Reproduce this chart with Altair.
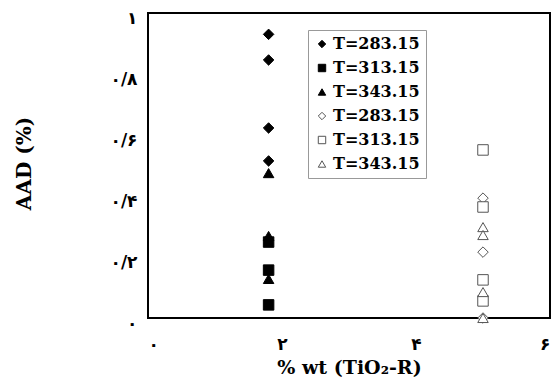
import altair as alt
import pandas as pd

# Filled series (x ~ 1.8 wt%)
x_filled = 1.8
y_d283 = [0.93, 0.846, 0.623, 0.515]
y_s313 = [0.249, 0.157, 0.043]
y_t343 = [0.475, 0.269, 0.128]

# Open series (x ~ 5 wt%)
x_open = 5.0
y_od283 = [0.393, 0.216, 0.0]
y_os313 = [0.551, 0.364, 0.125, 0.056]
y_ot343 = [0.298, 0.272, 0.085, 0.0]

series_keys = ["1|T=283.15", "2|T=313.15", "3|T=343.15",
               "4|T=283.15", "5|T=313.15", "6|T=343.15"]
shapes = ["diamond", "square", "triangle-up", "diamond", "square", "triangle-up"]
fills = ["black", "black", "black", "white", "white", "white"]
strokes = ["black", "black", "black", "#555555", "#555555", "#555555"]

x_ticks = [0, 2, 4, 6]
x_tick_labels = ["۰", "۲", "۴", "۶"]
y_ticks = [0, 0.2, 0.4, 0.6, 0.8, 1.0]
y_tick_labels = ["۰", "۰/۲", "۰/۴", "۰/۶", "۰/۸", "۱"]

rows = []
for key, xv, ys in [
    (series_keys[0], x_filled, y_d283),
    (series_keys[1], x_filled, y_s313),
    (series_keys[2], x_filled, y_t343),
    (series_keys[3], x_open, y_od283),
    (series_keys[4], x_open, y_os313),
    (series_keys[5], x_open, y_ot343),
]:
    for yv in ys:
        rows.append({"x": xv, "y": yv, "series": key})
df = pd.DataFrame(rows)

tfont = "DejaVu Serif"
dfont = "DejaVu Sans"
xlab = "[" + ",".join("'%s'" % s for s in x_tick_labels) + "][round(datum.value/2)]"
ylab = "[" + ",".join("'%s'" % s for s in y_tick_labels) + "][round(datum.value*5)]"

legend = alt.Legend(
    title=None, orient="none", legendX=160, legendY=17,
    labelExpr="split(datum.label, '|')[1]",
    labelFont=tfont, labelFontWeight="bold", labelFontSize=16, labelColor="black",
    symbolSize=55, symbolStrokeWidth=1, rowPadding=8, padding=6,
    strokeColor="#999999", fillColor="white", labelOffset=3,
)

chart = alt.Chart(df).mark_point(size=110, opacity=1, strokeWidth=1).encode(
    x=alt.X("x:Q", scale=alt.Scale(domain=[0, 6], nice=False),
            axis=alt.Axis(values=x_ticks, labelExpr=xlab, domain=False, ticks=False,
                          grid=False, labelPadding=18, labelFont=dfont, labelFlush=True,
                          labelFontWeight="bold", labelFontSize=17, labelColor="black",
                          title="% wt (TiO₂-R)", titleFont=tfont, titleFontWeight="bold",
                          titleFontSize=19, titleColor="black", titlePadding=6)),
    y=alt.Y("y:Q", scale=alt.Scale(domain=[0, 1], nice=False),
            axis=alt.Axis(values=y_ticks, labelExpr=ylab, domain=False, ticks=False,
                          grid=False, labelPadding=11, labelFont=dfont, labelOffset=5,
                          labelFontWeight="bold", labelFontSize=17, labelColor="black",
                          title="AAD (%)", titleFont=tfont, titleFontWeight="bold",
                          titleFontSize=20, titleColor="black",
                          titleX=-124, titleY=150, titleAngle=270,
                          titleBaseline="middle", titleAlign="center")),
    shape=alt.Shape("series:N", scale=alt.Scale(domain=series_keys, range=shapes), legend=legend),
    fill=alt.Fill("series:N", scale=alt.Scale(domain=series_keys, range=fills), legend=legend),
    stroke=alt.Stroke("series:N", scale=alt.Scale(domain=series_keys, range=strokes), legend=legend),
).properties(
    width=402, height=305,
    autosize=alt.AutoSizeParams(type="none"),
    padding={"left": 140, "top": 5, "right": 1, "bottom": 61},
).configure_view(
    stroke="black", strokeWidth=2
)

chart.save("out.html", embed_options={"renderer": "svg", "actions": False})
